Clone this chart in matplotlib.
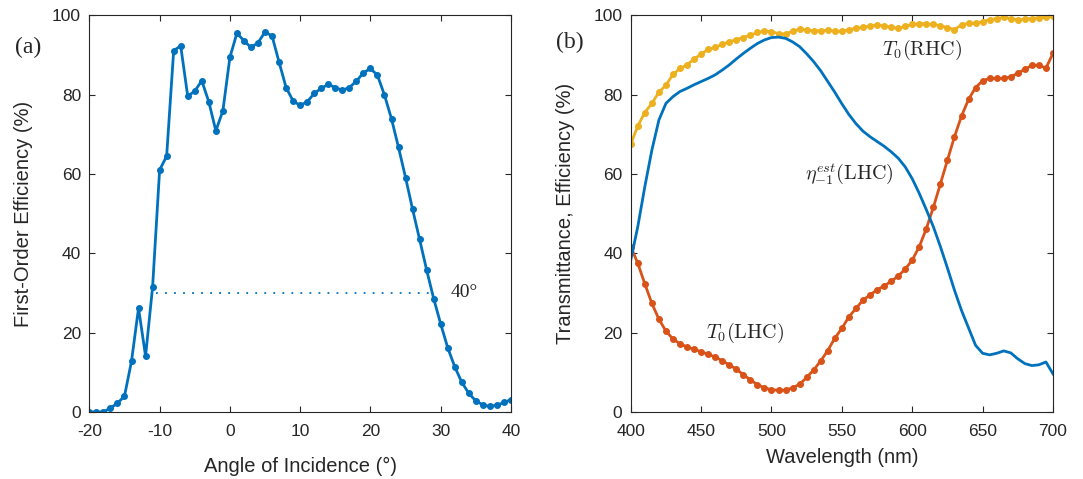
import matplotlib
matplotlib.use("Agg")
import matplotlib.pyplot as plt
import numpy as np

# (a) first-order efficiency vs angle of incidence
angle = np.arange(-20, 41, 1)
eff = [0.0, 0.0, 0.0, 1.0, 2.2, 4.0, 12.8, 26.2, 14.1, 31.5,
       61.0, 64.5, 91.1, 92.3, 79.6, 80.9, 83.5, 78.2, 70.9, 75.9,
       89.4, 95.5, 93.6, 91.9, 93.1, 95.8, 94.8, 88.2, 81.8, 78.4,
       77.3, 78.2, 80.3, 81.6, 82.6, 81.8, 81.1, 81.8, 83.4, 85.5,
       86.6, 84.9, 79.9, 73.9, 66.7, 59.1, 51.1, 43.5, 35.8, 28.6,
       22.2, 16.2, 11.4, 7.5, 4.7, 2.8, 1.8, 1.4, 1.7, 2.4,
       3.1]
cutoff_level = 30
cutoff_from = -10.5
cutoff_to = 28.5

# (b) transmittance / efficiency vs wavelength
wl = np.arange(400, 701, 5)
t0_rhc = [67.5, 72.1, 75.5, 77.8, 80.6, 82.4, 85.1, 86.6, 87.5, 89.0,
          90.2, 91.4, 91.9, 92.7, 93.3, 93.9, 94.4, 95.0, 95.7, 96.0,
          95.9, 95.4, 95.3, 96.0, 96.5, 96.3, 96.1, 96.1, 96.2, 96.0,
          96.0, 96.4, 96.7, 97.0, 97.3, 97.6, 97.3, 97.0, 96.7, 97.2,
          97.7, 97.9, 97.8, 97.7, 97.4, 96.9, 96.4, 97.6, 98.0, 98.0,
          98.4, 98.9, 99.2, 99.5, 99.2, 98.9, 99.0, 99.2, 99.4, 99.5,
          99.8]
t0_lhc = [41.7, 37.5, 32.3, 27.4, 23.4, 20.4, 18.4, 17.2, 16.4, 15.8,
          15.2, 14.5, 13.9, 12.9, 11.9, 10.8, 9.4, 8.1, 6.9, 6.1,
          5.6, 5.5, 5.5, 6.1, 7.0, 8.7, 10.6, 12.9, 15.5, 18.6,
          21.1, 24.0, 26.1, 28.2, 29.5, 30.8, 31.8, 32.9, 34.3, 36.0,
          38.3, 41.7, 46.2, 51.6, 57.5, 63.5, 69.4, 74.6, 78.8, 81.8,
          83.5, 84.1, 84.1, 84.1, 84.5, 85.4, 86.4, 87.4, 87.4, 86.7,
          90.4]
eta_lhc = [38.3, 46.7, 56.8, 66.0, 73.6, 77.8, 79.5, 80.8, 81.6, 82.5,
           83.3, 84.1, 85.0, 86.2, 87.5, 89.0, 90.4, 91.7, 92.9, 93.8,
           94.4, 94.5, 94.2, 93.3, 92.1, 90.3, 88.3, 86.0, 83.3, 80.6,
           77.7, 75.0, 72.7, 70.8, 69.4, 68.2, 67.0, 65.6, 64.0, 61.8,
           58.8, 55.1, 51.0, 46.7, 41.7, 36.3, 30.7, 25.6, 21.2, 16.8,
           14.8, 14.4, 14.8, 15.4, 14.9, 13.4, 12.2, 11.7, 11.9, 12.6,
           9.6]

blue = "#0072BD"
orange = "#D95319"
yellow = "#EDB120"
dark = "#262626"

plt.rcParams["font.family"] = ["Liberation Sans", "DejaVu Sans"]
plt.rcParams["mathtext.fontset"] = "cm"
plt.rcParams["axes.unicode_minus"] = False

fig = plt.figure(figsize=(10.83, 4.79), dpi=100)
ax1 = fig.add_axes([0.0825, 0.1399, 0.3893, 0.8281])
ax2 = fig.add_axes([0.5824, 0.1399, 0.3899, 0.8281])

ax1.plot(angle, eff, "-o", color=blue, lw=2, ms=4)
ax1.plot([cutoff_from, cutoff_to], [cutoff_level, cutoff_level], color=blue,
         lw=1.3, linestyle=(0, (1, 4)))
ax1.text(31.4, cutoff_level, "40°", family="Liberation Serif", fontsize=14,
         ha="left", va="center", color=dark)
ax1.set_xlim(-20, 40)
ax1.set_xticks(range(-20, 41, 10))
ax1.set_xlabel("Angle of Incidence (°)", fontsize=14.5, color=dark, va="baseline")
ax1.set_ylabel("First-Order Efficiency (%)", fontsize=14.5, color=dark)
ax1.xaxis.set_label_coords(0.5, -0.1505)
ax1.yaxis.set_label_coords(-0.1335, 0.5)

ax2.plot(wl, t0_rhc, "-o", color=yellow, lw=2, ms=4)
ax2.plot(wl, t0_lhc, "-o", color=orange, lw=2, ms=4)
ax2.plot(wl, eta_lhc, "-", color=blue, lw=2)
ax2.text(607, 91.2, r"$T_0(\mathrm{RHC})$", fontsize=14.5, ha="center", va="center", color=dark)
ax2.text(555, 60, r"$\eta_{-1}^{est}(\mathrm{LHC})$", fontsize=14.5, ha="center", va="center", color=dark)
ax2.text(481, 20, r"$T_0(\mathrm{LHC})$", fontsize=14.5, ha="center", va="center", color=dark)
ax2.set_xlim(400, 700)
ax2.set_xticks(range(400, 701, 50))
ax2.set_xlabel("Wavelength (nm)", fontsize=14.5, color=dark, va="baseline")
ax2.set_ylabel("Transmittance, Efficiency (%)", fontsize=14.5, color=dark)
ax2.xaxis.set_label_coords(0.5, -0.1286)
ax2.yaxis.set_label_coords(-0.132, 0.5)

for ax in (ax1, ax2):
    ax.set_ylim(0, 100)
    ax.set_yticks(range(0, 101, 20))
    ax.tick_params(direction="in", length=4, width=0.8, top=True, right=True,
                   labelsize=12.5, colors=dark)
    ax.tick_params(axis="x", pad=9)
    ax.tick_params(axis="y", pad=6)
    for s in ax.spines.values():
        s.set_color(dark)
        s.set_linewidth(0.8)

fig.text(0.0256, 0.90, "(a)", family="Liberation Serif", fontsize=17,
         ha="center", va="center", color=dark)
fig.text(0.5259, 0.911, "(b)", family="Liberation Serif", fontsize=17,
         ha="center", va="center", color=dark)

fig.savefig("out.png", dpi=100)
